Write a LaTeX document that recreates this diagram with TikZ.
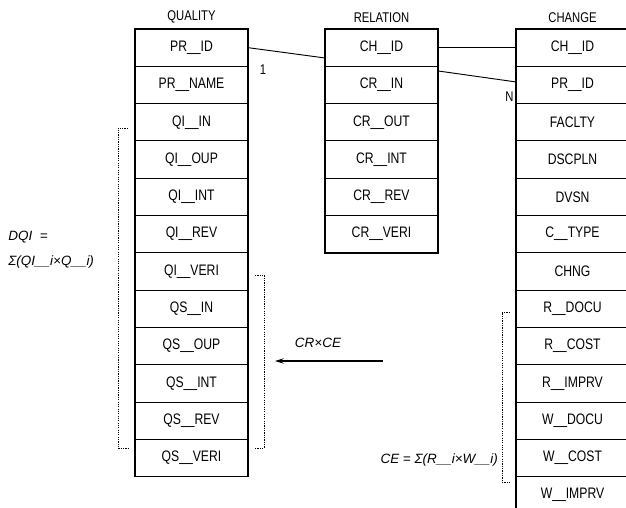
\documentclass[tikz,border=0pt]{standalone}
\usepackage{fontspec}
\setmainfont{Liberation Sans}
\newfontfamily\narrowsf[FakeStretch=0.8]{Liberation Sans}
\usepackage{tikz}
\usetikzlibrary{arrows.meta,positioning}
\tikzset{
  fld/.style ={rectangle, draw, line width=0.8pt, minimum width=3.39cm,
               minimum height=1.119cm, inner sep=0pt, outer sep=0pt,
               font=\narrowsf\fontsize{13pt}{15pt}\selectfont},
  ttl/.style ={font=\narrowsf\fontsize{12pt}{14pt}\selectfont, inner sep=2pt},
  frm/.style ={draw, line width=1.5pt},
  lnk/.style ={draw, line width=0.8pt},
  brk/.style ={draw, line width=0.7pt, dash pattern=on 1pt off 1pt},
  ar/.style  ={-{Stealth[length=2.6mm, width=1.6mm]}, line width=0.9pt},
  lbl/.style ={font=\itshape\fontsize{11.5pt}{13pt}\selectfont, inner sep=1pt},
  card/.style={font=\narrowsf\fontsize{12pt}{14pt}\selectfont, inner sep=1pt}
}

\begin{document}
\begin{tikzpicture}
\useasboundingbox (0,0) rectangle (18.78,-15.24);
\clip (0,0) rectangle (18.78,-15.24);

% QUALITY table
\node[fld, anchor=north] (q1) at (5.745,-0.87) {PR\_\_ID};
\node[fld, below=0pt of q1]  (q2)  {PR\_\_NAME};
\node[fld, below=0pt of q2]  (q3)  {QI\_\_IN};
\node[fld, below=0pt of q3]  (q4)  {QI\_\_OUP};
\node[fld, below=0pt of q4]  (q5)  {QI\_\_INT};
\node[fld, below=0pt of q5]  (q6)  {QI\_\_REV};
\node[fld, below=0pt of q6]  (q7)  {QI\_\_VERI};
\node[fld, below=0pt of q7]  (q8)  {QS\_\_IN};
\node[fld, below=0pt of q8]  (q9)  {QS\_\_OUP};
\node[fld, below=0pt of q9]  (q10) {QS\_\_INT};
\node[fld, below=0pt of q10] (q11) {QS\_\_REV};
\node[fld, below=0pt of q11] (q12) {QS\_\_VERI};
\draw[frm] (q1.north west) rectangle (q12.south east);
\draw[frm, line width=2.2pt] (q1.north west) -- (q12.south west);
\node[ttl, above=0.1cm of q1] (qttl) {QUALITY};

% RELATION table
\node[fld, anchor=north] (r1) at (11.445,-0.87) {CH\_\_ID};
\node[fld, below=0pt of r1] (r2) {CR\_\_IN};
\node[fld, below=0pt of r2] (r3) {CR\_\_OUT};
\node[fld, below=0pt of r3] (r4) {CR\_\_INT};
\node[fld, below=0pt of r4] (r5) {CR\_\_REV};
\node[fld, below=0pt of r5] (r6) {CR\_\_VERI};
\draw[frm] (r1.north west) rectangle (r6.south east);
\draw[frm, line width=2.2pt] (r1.north west) -- (r6.south west);
\node[ttl, above=0.1cm of r1] (rttl) {RELATION};

% CHANGE table
\node[fld, anchor=north] (c1) at (17.175,-0.87) {CH\_\_ID};
\node[fld, below=0pt of c1]  (c2)  {PR\_\_ID};
\node[fld, below=0pt of c2]  (c3)  {FACLTY};
\node[fld, below=0pt of c3]  (c4)  {DSCPLN};
\node[fld, below=0pt of c4]  (c5)  {DVSN};
\node[fld, below=0pt of c5]  (c6)  {C\_\_TYPE};
\node[fld, below=0pt of c6]  (c7)  {CHNG};
\node[fld, below=0pt of c7]  (c8)  {R\_\_DOCU};
\node[fld, below=0pt of c8]  (c9)  {R\_\_COST};
\node[fld, below=0pt of c9]  (c10) {R\_\_IMPRV};
\node[fld, below=0pt of c10] (c11) {W\_\_DOCU};
\node[fld, below=0pt of c11] (c12) {W\_\_COST};
\node[fld, below=0pt of c12] (c13) {W\_\_IMPRV};
\draw[frm] (c1.north west) rectangle (c13.south east);
\draw[frm, line width=2.2pt] (c1.north west) -- (c13.south west);
\node[ttl, above=0.1cm of c1] (cttl) {CHANGE};

% links
\draw[lnk] (q1.east) -- ([yshift=-0.31cm]r1.west);
\draw[lnk] (r1.east) -- (c1.west);
\draw[lnk] ([yshift=0.42cm]r2.east) -- ([yshift=0.09cm]c2.west);
\node[card] (one) at (7.89,-2.1) {1};
\node[card, anchor=east] (many) at (15.45,-2.91) {N};

% brackets
\draw[brk] (3.84,-3.84) -- (3.54,-3.84) -- (3.54,-13.44) -- (3.84,-13.44);
\draw[brk] (7.65,-8.25) -- (7.92,-8.25) -- (7.92,-13.44) -- (7.65,-13.44);
\draw[brk] (15.3,-9.36) -- (15.06,-9.36) -- (15.06,-14.46) -- (15.3,-14.46);

% formulas
\node[lbl, anchor=west] (dqi) at (0.21,-7.11) {DQI \;=};
\node[lbl, anchor=west] (dqisum) at (0.21,-7.86) {Σ(QI\_\_i×Q\_\_i)};
\node[lbl, anchor=east] (cesum) at (14.98,-13.8) {CE = Σ(R\_\_i×W\_\_i)};
\node[lbl] (crce) at (9.54,-10.29) {CR×CE};
\coordinate (crfrom) at (11.49,-10.83);
\coordinate (crto) at (8.25,-10.83);
\draw[ar] (crfrom) -- (crto);
\end{tikzpicture}
\end{document}
